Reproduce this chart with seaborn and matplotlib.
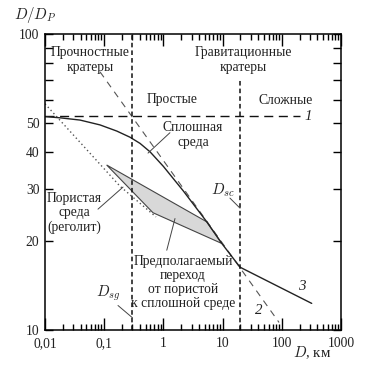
import matplotlib
matplotlib.use("Agg")
import matplotlib.pyplot as plt
from matplotlib.ticker import LogLocator, NullLocator, NullFormatter
import seaborn as sns

# crater diameter D (km) against D/Dp
solid_x = [0.01, 0.018, 0.039, 0.085, 0.163, 0.273, 0.403, 0.594, 1.0, 2.17, 5.4, 9.7, 19.7, 320]
solid_y = [52.6, 52.1, 51.2, 49.3, 47.0, 44.8, 42.7, 40.0, 35.7, 29.5, 23.2, 19.6, 16.3, 12.3]

line1_x = [0.01, 200]
line1_y = [52.8, 52.8]

line2_x = [0.085, 90]
line2_y = [74.5, 10.6]

porous_x = [0.01, 0.185, 0.75]
porous_y = [58.1, 30.6, 24.1]

# assumed transition zone (polygon)
zone_x = [0.11, 5.4, 9.7, 0.667]
zone_y = [36.1, 23.2, 19.6, 24.9]

# D_sg and D_sc boundaries
bound_x = [0.3, 20]
bound_top = [100, 70]

x_ticks = [0.01, 0.1, 1, 10, 100, 1000]
x_labels = ["0,01", "0,1", "1", "10", "100", "1000"]
y_ticks = [10, 20, 30, 40, 50, 60, 70, 80, 90, 100]
y_labels = ["10", "20", "30", "40", "50", "", "", "", "", "100"]

sns.set_style("ticks")
plt.rcParams["font.family"] = ["Liberation Serif", "DejaVu Serif"]
plt.rcParams["mathtext.fontset"] = "cm"
fs = 9.8

W, H = 390, 374
fig = plt.figure(figsize=(W / 100, H / 100), dpi=100)
ax = fig.add_axes([45 / W, 44 / H, 296 / W, 296 / H])

ax.fill(zone_x, zone_y, facecolor="#d8d8d8", edgecolor="#444444", lw=0.8, zorder=1)
sns.lineplot(x=porous_x, y=porous_y, ax=ax, color="#555555", lw=1.0,
             linestyle=(0, (1, 2)), estimator=None, sort=False)
sns.lineplot(x=line2_x, y=line2_y, ax=ax, color="#555555", lw=0.8,
             linestyle=(0, (6, 5)), estimator=None, sort=False)
sns.lineplot(x=line1_x, y=line1_y, ax=ax, color="#111111", lw=1.0,
             linestyle=(0, (6.5, 4)), estimator=None, sort=False)
sns.lineplot(x=solid_x, y=solid_y, ax=ax, color="#222222", lw=1.0,
             estimator=None, sort=False)
ax.vlines(bound_x, 10, bound_top, colors="#111111", lw=1.1, linestyles=(0, (3, 2)))

ax.set_xscale("log")
ax.set_yscale("log")
ax.set_xlim(0.01, 1000)
ax.set_ylim(10, 100)
ax.set_xticks(x_ticks, labels=x_labels)
ax.xaxis.set_minor_locator(LogLocator(base=10, subs=range(2, 10)))
ax.xaxis.set_minor_formatter(NullFormatter())
ax.set_yticks(y_ticks, labels=y_labels)
ax.yaxis.set_minor_locator(NullLocator())
ax.tick_params(which="both", direction="in", top=True, right=True,
               color="black", width=1.0, labelsize=fs, labelcolor="#222222")
ax.tick_params(axis="x", which="major", length=8.5, pad=5)
ax.tick_params(axis="x", which="minor", length=4.3)
ax.tick_params(axis="y", which="major", length=5.5, pad=4)
for s in ax.spines.values():
    s.set_linewidth(1.1)
    s.set_color("black")

def label(x, y, s, **kw):
    kw.setdefault("ha", "center")
    kw.setdefault("va", "center")
    kw.setdefault("fontsize", fs)
    kw.setdefault("color", "#222222")
    fig.text(x / W, 1 - y / H, s, **kw)

def pointer(x0, y0, x1, y1):
    ax.annotate("", xy=(x1, y1), xytext=(x0, y0),
                arrowprops=dict(arrowstyle="-", color="#444444", lw=0.7,
                                shrinkA=0, shrinkB=0))

label(90, 60, "Прочностные\nкратеры", linespacing=1.2)
label(243, 60, "Гравитационные\nкратеры", linespacing=1.2)
label(172, 100, "Простые")
label(286, 100, "Сложные")
label(308, 116, "1", fontstyle="italic", fontsize=fs + 1)
label(193, 135, "Сплошная\nсреда", linespacing=1.15)
label(74, 213, "Пористая\nсреда\n(реголит)", linespacing=1.15)
label(183, 282, "Предполагаемый\nпереход\nот пористой\nк сплошной среде", linespacing=1.1)
label(223, 190, "$D_{sc}$", fontsize=fs + 1)
label(108, 293, "$D_{sg}$", fontsize=fs + 1)
label(259, 311, "2", fontstyle="italic", fontsize=fs + 1)
label(302, 286, "3", fontstyle="italic", fontsize=fs + 1)
label(35, 15, "$D/D_P$", fontsize=fs + 1)
label(312, 353, "$D$, км", fontsize=fs + 1)

pointer(0.55, 39.6, 1.29, 46.4)
pointer(0.0785, 25.6, 0.208, 30.4)
pointer(1.14, 18.6, 1.57, 23.8)
pointer(13.3, 27.9, 19.7, 25.8)
pointer(0.171, 12.1, 0.3, 11.0)

fig.savefig("out.png", dpi=100)
